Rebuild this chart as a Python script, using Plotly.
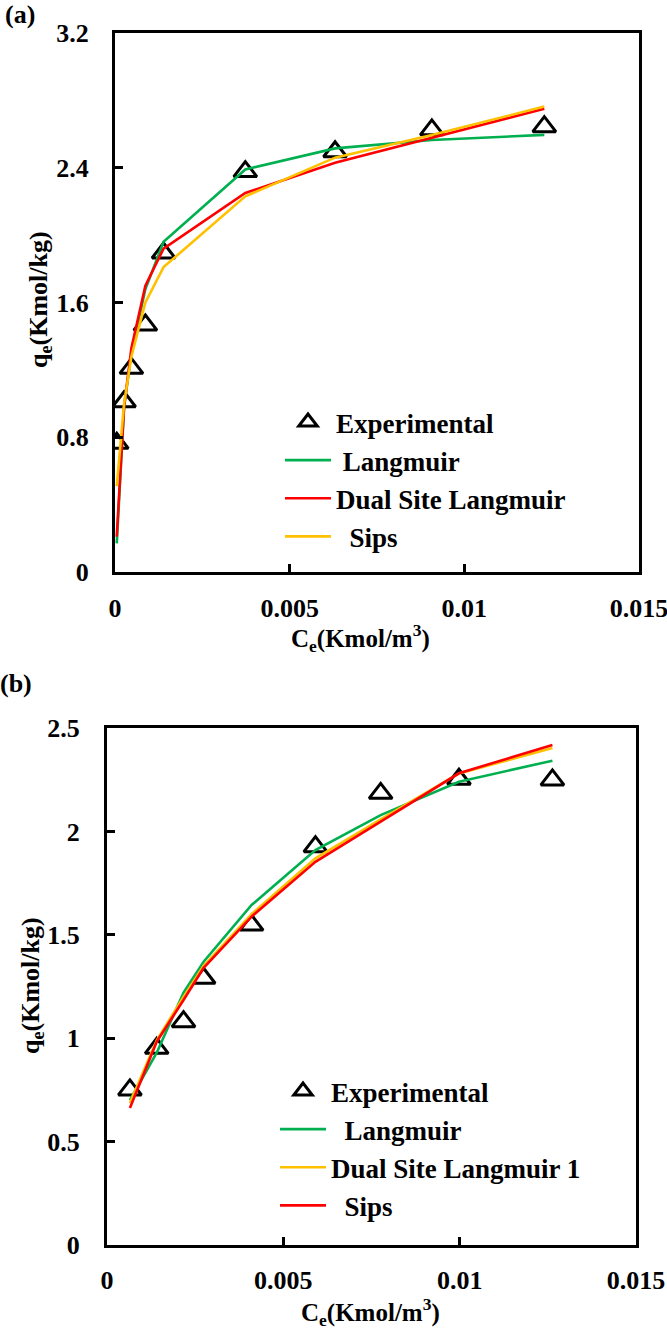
import plotly.graph_objects as go

# ---------------- data: panel (a) ----------------
ce_a = [0.00005, 0.00026, 0.00047, 0.00087, 0.00139, 0.00373, 0.0063, 0.00907, 0.01229]
q_exp_a = [0.764, 1.011, 1.209, 1.466, 1.894, 2.377, 2.495, 2.625, 2.644]
q_langmuir_a = [0.17, 0.98, 1.30, 1.68, 1.96, 2.39, 2.515, 2.565, 2.595]
q_dual_a = [0.21, 0.98, 1.33, 1.70, 1.92, 2.25, 2.43, 2.578, 2.75]
q_sips_a = [0.51, 1.00, 1.28, 1.60, 1.81, 2.23, 2.46, 2.595, 2.763]

# ---------------- data: panel (b) ----------------
ce_b = [0.00065, 0.00141, 0.00217, 0.00274, 0.0041, 0.00591, 0.00776, 0.00998, 0.01263]
q_exp_b = [0.75, 0.951, 1.08, 1.29, 1.547, 1.926, 2.184, 2.252, 2.249]
q_langmuir_b = [0.70, 0.93, 1.22, 1.37, 1.644, 1.91, 2.079, 2.24, 2.342]
q_dual_b = [0.687, 0.99, 1.20, 1.35, 1.60, 1.87, 2.058, 2.28, 2.403]
q_sips_b = [0.662, 0.983, 1.185, 1.34, 1.588, 1.853, 2.047, 2.281, 2.418]

# ---------------- ticks ----------------
x_ticks = [0, 0.005, 0.01, 0.015]
x_ticktext = ["0", "0.005", "0.01", "0.015"]
y_ticks_a = [0, 0.8, 1.6, 2.4, 3.2]
y_ticktext_a = ["0", "0.8", "1.6", "2.4", "3.2"]
y_ticks_b = [0, 0.5, 1, 1.5, 2, 2.5]
y_ticktext_b = ["0", "0.5", "1", "1.5", "2", "2.5"]

W, H = 667, 1332
FONT = "Liberation Serif, Times New Roman, serif"
GREEN = "#00B050"
RED = "#FF0000"
YELLOW = "#FFC000"
NB = "\u00a0"


def fx(p):
    return p / W


def fy(p):
    return 1 - p / H


fig = go.Figure()

line_w = 2.6
exp_marker = dict(symbol="triangle-up-open", size=20, color="black",
                  line=dict(color="black", width=3))

# panel (a)
fig.add_trace(go.Scatter(x=ce_a, y=q_exp_a, mode="markers", name="Experimental",
                         marker=exp_marker, xaxis="x", yaxis="y", legend="legend"))
fig.add_trace(go.Scatter(x=ce_a, y=q_langmuir_a, mode="lines", name=NB + "Langmuir",
                         line=dict(color=GREEN, width=line_w), xaxis="x", yaxis="y",
                         legend="legend"))
fig.add_trace(go.Scatter(x=ce_a, y=q_dual_a, mode="lines", name="Dual Site Langmuir",
                         line=dict(color=RED, width=line_w), xaxis="x", yaxis="y",
                         legend="legend"))
fig.add_trace(go.Scatter(x=ce_a, y=q_sips_a, mode="lines", name=NB + NB + "Sips",
                         line=dict(color=YELLOW, width=line_w), xaxis="x", yaxis="y",
                         legend="legend"))

# panel (b)
fig.add_trace(go.Scatter(x=ce_b, y=q_exp_b, mode="markers", name="Experimental",
                         marker=exp_marker, xaxis="x2", yaxis="y2", legend="legend2"))
fig.add_trace(go.Scatter(x=ce_b, y=q_langmuir_b, mode="lines", name=NB + NB + "Langmuir",
                         line=dict(color=GREEN, width=line_w), xaxis="x2", yaxis="y2",
                         legend="legend2"))
fig.add_trace(go.Scatter(x=ce_b, y=q_dual_b, mode="lines", name="Dual Site Langmuir 1",
                         line=dict(color=YELLOW, width=line_w), xaxis="x2", yaxis="y2",
                         legend="legend2"))
fig.add_trace(go.Scatter(x=ce_b, y=q_sips_b, mode="lines", name=NB + NB + "Sips",
                         line=dict(color=RED, width=line_w), xaxis="x2", yaxis="y2",
                         legend="legend2"))

tickfont = dict(family=FONT, size=26, color="black", weight="bold")
axis_common = dict(showline=True, linewidth=3, linecolor="black", mirror=True,
                   ticks="inside", ticklen=8, tickwidth=3, tickcolor="black",
                   showgrid=False, zeroline=False, tickfont=tickfont, automargin=False,
                   ticklabeloverflow="allow")
legend_font = dict(family=FONT, size=27, color="black", weight="bold")

fig.update_layout(
    width=W, height=H,
    margin=dict(l=0, r=0, t=0, b=0, autoexpand=False),
    paper_bgcolor="white", plot_bgcolor="white",
    xaxis=dict(domain=[fx(115), fx(639)], range=[0, 0.015], tickvals=x_ticks,
               ticktext=x_ticktext, anchor="y", ticklabelstandoff=11, **axis_common),
    yaxis=dict(domain=[fy(572), fy(33)], range=[0, 3.2], tickvals=y_ticks_a,
               ticktext=y_ticktext_a, anchor="x", ticklabelstandoff=18, **axis_common),
    xaxis2=dict(domain=[fx(107), fx(636)], range=[0, 0.015], tickvals=x_ticks,
                ticktext=x_ticktext, anchor="y2", ticklabelstandoff=10, **axis_common),
    yaxis2=dict(domain=[fy(1245), fy(728)], range=[0, 2.5], tickvals=y_ticks_b,
                ticktext=y_ticktext_b, anchor="x2", ticklabelstandoff=19, **axis_common),
    legend=dict(x=fx(280), y=fy(398), xanchor="left", yanchor="top", itemwidth=46,
                bgcolor="rgba(0,0,0,0)", borderwidth=0, font=legend_font),
    legend2=dict(x=fx(275), y=fy(1067), xanchor="left", yanchor="top", itemwidth=46,
                 bgcolor="rgba(0,0,0,0)", borderwidth=0, font=legend_font),
    showlegend=True,
)

title_font = dict(family=FONT, size=26, color="black", weight="bold")
title_font_x = dict(family=FONT, size=25, color="black", weight="bold")
annotations = [
    dict(text="(a)", x=fx(20), y=fy(15), xref="paper", yref="paper",
         showarrow=False, font=title_font, xanchor="center", yanchor="middle"),
    dict(text="(b)", x=fx(16), y=fy(683), xref="paper", yref="paper",
         showarrow=False, font=title_font, xanchor="center", yanchor="middle"),
    dict(text="q<sub>e</sub>(Kmol/kg)", x=fx(40), y=fy(300), xref="paper", yref="paper",
         showarrow=False, font=title_font, textangle=-90, xanchor="center", yanchor="middle"),
    dict(text="q<sub>e</sub>(Kmol/kg)", x=fx(32), y=fy(986), xref="paper", yref="paper",
         showarrow=False, font=title_font, textangle=-90, xanchor="center", yanchor="middle"),
    dict(text="C<sub>e</sub>(Kmol/m<sup>3</sup>)", x=fx(360), y=fy(638), xref="paper",
         yref="paper", showarrow=False, font=title_font_x, xanchor="center", yanchor="middle"),
    dict(text="C<sub>e</sub>(Kmol/m<sup>3</sup>)", x=fx(370), y=fy(1312), xref="paper",
         yref="paper", showarrow=False, font=title_font_x, xanchor="center", yanchor="middle"),
]
fig.update_layout(annotations=annotations)

fig.write_html(
    "out.html",
    config={"displayModeBar": False},
    post_script="document.body.style.margin='0';document.body.style.padding='0';"
                "document.documentElement.style.overflow='hidden';",
)
